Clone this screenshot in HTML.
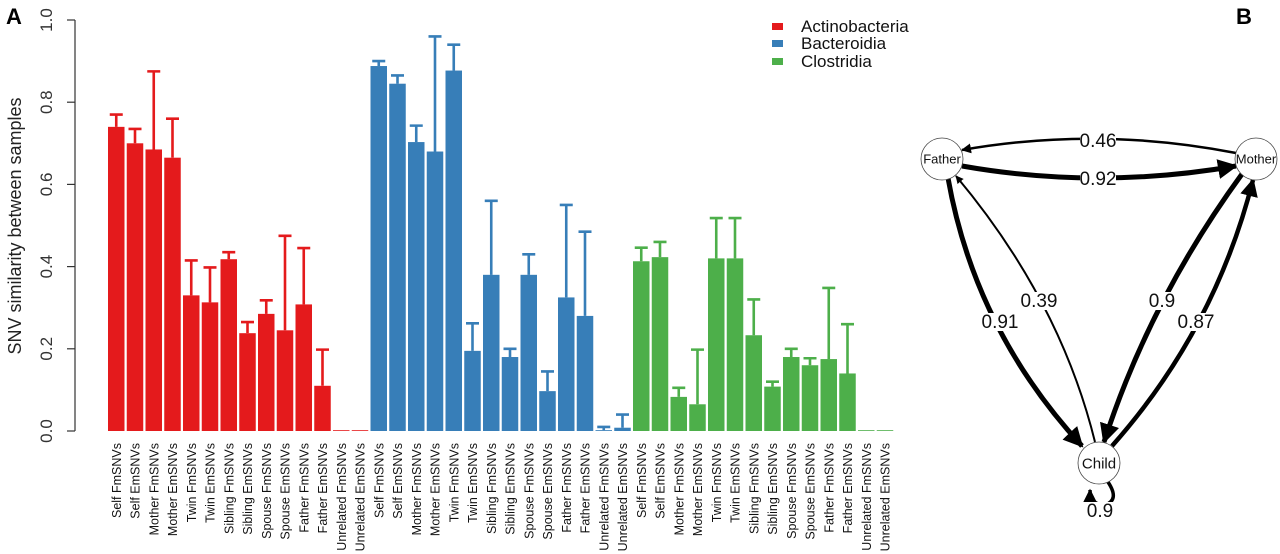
<!DOCTYPE html>
<html><head><meta charset="utf-8"><style>
html,body{margin:0;padding:0;background:#fff;}
svg{display:block;font-family:"Liberation Sans",Arial,sans-serif;}
</style></head><body>
<svg id="chart" width="1280" height="554" viewBox="0 0 1280 554">
<defs>
<marker id="ah" viewBox="0 0 10 10" refX="9" refY="5" markerWidth="4" markerHeight="4" markerUnits="strokeWidth" orient="auto"><path d="M0,0 L10,5 L0,10 z" fill="#000"/></marker>
</defs>
<text x="6" y="24" font-size="22" font-weight="bold">A</text>
<text x="1236" y="24" font-size="22" font-weight="bold">B</text>
<g id="bars"></g>
<g id="legend"></g>
<g id="net"></g>
</svg>
<script>
const groups = ["Actinobacteria","Bacteroidia","Clostridia"];
const groupColors = ["#e41a1c","#377eb8","#4daf4a"];
const categories = ["Self FmSNVs","Self EmSNVs","Mother FmSNVs","Mother EmSNVs","Twin FmSNVs","Twin EmSNVs","Sibling FmSNVs","Sibling EmSNVs","Spouse FmSNVs","Spouse EmSNVs","Father FmSNVs","Father EmSNVs","Unrelated FmSNVs","Unrelated EmSNVs"];
const actinoValues = [0.74,0.70,0.685,0.665,0.33,0.313,0.418,0.238,0.285,0.245,0.308,0.11,0,0];
const actinoErr = [0.77,0.735,0.875,0.76,0.415,0.398,0.435,0.265,0.318,0.475,0.445,0.198,0,0];
const bacterValues = [0.888,0.845,0.703,0.68,0.877,0.195,0.38,0.18,0.38,0.097,0.325,0.28,0.002,0.008];
const bacterErr = [0.9,0.865,0.743,0.96,0.94,0.262,0.56,0.2,0.43,0.145,0.55,0.485,0.01,0.04];
const clostValues = [0.413,0.423,0.083,0.065,0.42,0.42,0.233,0.108,0.18,0.16,0.175,0.14,0,0];
const clostErr = [0.446,0.46,0.105,0.198,0.518,0.518,0.32,0.12,0.2,0.177,0.348,0.26,0,0];
const yTicks = ["0.0","0.2","0.4","0.6","0.8","1.0"];

const NS="http://www.w3.org/2000/svg";
function mk(tag,attrs,parent){const e=document.createElementNS(NS,tag);for(const k in attrs)e.setAttribute(k,attrs[k]);parent.appendChild(e);return e;}
const y0=431,y1=20;
function yScale(v){return y0-(y0-y1)*v;}
const barStart=108,pitch=18.75,barW=16.5;
function xScale(i){return barStart+i*pitch;}

const g=document.getElementById('bars');
let ax=mk('line',{x1:75,y1:yScale(0),x2:75,y2:yScale(1),stroke:'#333','stroke-width':1.2},g);


yTicks.forEach(t=>{
  const v=parseFloat(t),y=yScale(v);
  const tl=mk('line',{x1:67,y1:y,x2:75,y2:y,stroke:'#333','stroke-width':1.2},g);
  
  
  const tx=mk('text',{x:0,y:0,'font-size':17,fill:'#333','text-anchor':'middle',transform:`translate(52,${y}) rotate(-90)`},g);
  tx.textContent=t;
  
  
});
const yt=mk('text',{x:0,y:0,'font-size':18,fill:'#222','text-anchor':'middle',transform:'translate(21,226) rotate(-90)'},g);
yt.textContent='SNV similarity between samples';



const vals=[actinoValues,bacterValues,clostValues], errs=[actinoErr,bacterErr,clostErr];
groups.forEach((gn,gi)=>{
  categories.forEach((c,ci)=>{
    const i=gi*categories.length+ci, x=xScale(i), col=groupColors[gi];
    const v=vals[gi][ci], e=errs[gi][ci];
    const top=yScale(v), h=Math.max(y0-top,0.8);
    const r=mk('rect',{x:x,y:y0-h,width:barW,height:h,fill:col},g);
    
    
    if(e>v){
      const cx=x+barW/2, ey=yScale(e);
      const el=mk('path',{d:`M${cx},${top} L${cx},${ey} M${cx-6.5},${ey} L${cx+6.5},${ey}`,stroke:col,'stroke-width':2.6,fill:'none'},g);
      
      
    }
    const lb=mk('text',{x:0,y:0,'font-size':12.5,fill:'#111','text-anchor':'end',transform:`translate(${x+barW/2+4.5},${443}) rotate(-90)`},g);
    lb.textContent=c;
    
    
  });
});

const lg=document.getElementById('legend');
groups.forEach((gn,gi)=>{
  const sy=[26,43,61][gi];
  const s=mk('rect',{x:772,y:sy-3,width:11,height:7,fill:groupColors[gi]},lg);
  
  
  const t=mk('text',{x:801,y:sy+6,'font-size':17,fill:'#111'},lg);
  t.textContent=gn;
  
  
});

const net=document.getElementById('net');
const edges=[
 {d:'M1236,153 Q1098,126 962,150',w:2.5,lab:'0.46',lx:1098,ly:147},
 {d:'M962,166 Q1098,190 1236,166',w:5,lab:'0.92',lx:1098,ly:185},
 {d:'M948,178 Q975,330 1082,446',w:5,lab:'0.91',lx:1000,ly:328},
 {d:'M1095,442 Q1060,300 956,176',w:2,lab:'0.39',lx:1039,ly:307},
 {d:'M1242,174 Q1150,300 1104,442',w:5,lab:'0.9',lx:1162,ly:307},
 {d:'M1112,446 Q1215,330 1253,180',w:4.5,lab:'0.87',lx:1196,ly:328},
];
edges.forEach(e=>{
  const p=mk('path',{d:e.d,stroke:'#000','stroke-width':e.w,fill:'none','marker-end':'url(#ah)'},net);
  
  
});
const loop=mk('path',{d:'M1108,482 Q1120,500 1105,505 Q1090,505 1090,490',stroke:'#000','stroke-width':3.5,fill:'none','marker-end':'url(#ah)'},net);


const nodes=[['Father',942,159,13],['Mother',1256,159,13],['Child',1099,463,15]];
nodes.forEach(n=>{
  const c=mk('circle',{cx:n[1],cy:n[2],r:21,fill:'#fff',stroke:'#444','stroke-width':0.8},net);
  
  
  const t=mk('text',{x:n[1],y:n[2]+n[3]*0.36,'font-size':n[3],'text-anchor':'middle',fill:'#111'},net);
  t.textContent=n[0];
  
  
});
edges.concat([{lab:'0.9',lx:1100,ly:517}]).forEach(e=>{
  const bg=mk('rect',{x:e.lx-18,y:e.ly-15,width:36,height:18,fill:'#fff'},net);
  
  
  const t=mk('text',{x:e.lx,y:e.ly,'font-size':19,'text-anchor':'middle',fill:'#111'},net);
  t.textContent=e.lab;
  
  
});
</script>
</body></html>
